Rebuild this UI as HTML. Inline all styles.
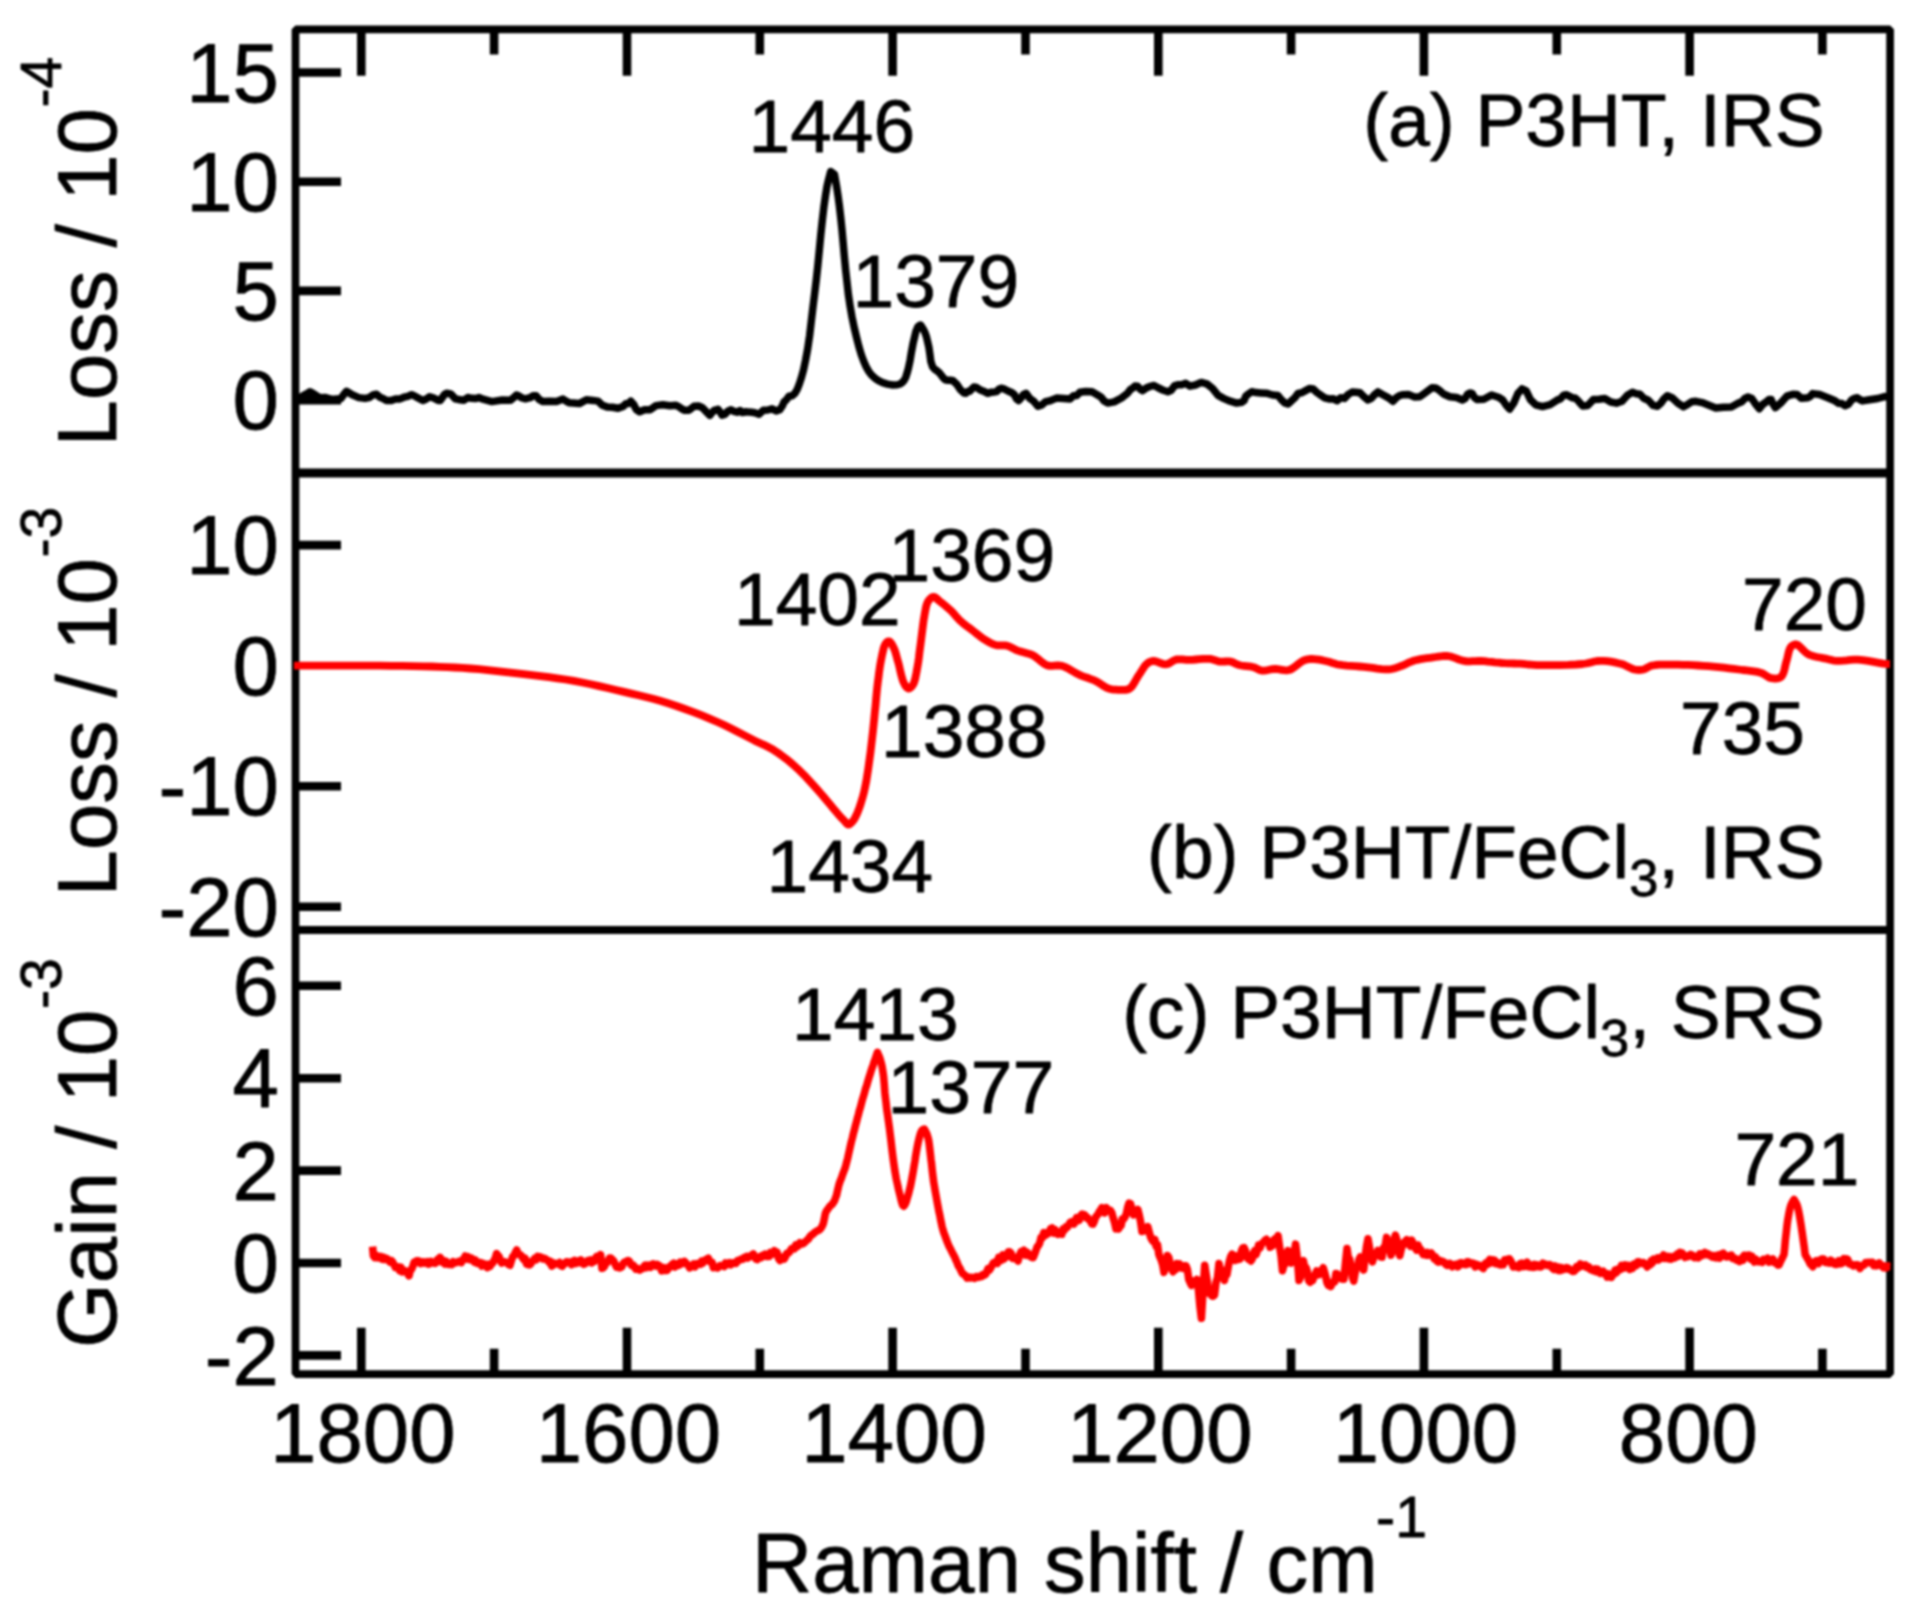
<!DOCTYPE html>
<html lang="en"><head><meta charset="utf-8"><title>Raman spectra of P3HT</title>
<style>
html,body{margin:0;padding:0;background:#fff;}
body{width:1916px;height:1620px;overflow:hidden;}
svg{display:block;filter:blur(0.8px);}
text{font-family:"Liberation Sans",sans-serif;fill:#000;stroke:#000;stroke-width:0.8px;stroke-linejoin:round;}
.t{font-size:83.4px;}
.p{font-size:74.9px;}
.q{font-size:74.8px;}
.s{font-size:57.2px;}
.ln{fill:none;stroke-linejoin:round;stroke-linecap:butt;}
</style></head><body>
<svg width="1916" height="1620" viewBox="0 0 1916 1620">
<rect x="0" y="0" width="1916" height="1620" fill="#fff"/>
<g stroke="#000" fill="none" stroke-linecap="butt">
<rect x="295.5" y="29.3" width="1594.6" height="1344.8" stroke-width="7.7" stroke-linejoin="bevel"/>
<line x1="295.5" y1="473.0" x2="1890.1" y2="473.0" stroke-width="9.0"/>
<line x1="295.5" y1="930.0" x2="1890.1" y2="930.0" stroke-width="8.2"/>
<path stroke-width="8.6" d="M361.3 29.3 v46.4 M361.3 1374.1 v-46.4 M494.1 29.3 v25.3 M494.1 1374.1 v-25.3 M627.0 29.3 v46.4 M627.0 1374.1 v-46.4 M759.8 29.3 v25.3 M759.8 1374.1 v-25.3 M892.6 29.3 v46.4 M892.6 1374.1 v-46.4 M1025.5 29.3 v25.3 M1025.5 1374.1 v-25.3 M1158.3 29.3 v46.4 M1158.3 1374.1 v-46.4 M1291.1 29.3 v25.3 M1291.1 1374.1 v-25.3 M1423.9 29.3 v46.4 M1423.9 1374.1 v-46.4 M1556.8 29.3 v25.3 M1556.8 1374.1 v-25.3 M1689.6 29.3 v46.4 M1689.6 1374.1 v-46.4 M1822.4 29.3 v25.3 M1822.4 1374.1 v-25.3"/>
<path stroke-width="8.6" d="M295.5 72.5 h45.5 M295.5 181.7 h45.5 M295.5 290.9 h45.5 M295.5 400.1 h45.5 M295.5 545.1 h45.5 M295.5 786.2 h45.5 M295.5 906.7 h45.5 M295.5 985.8 h45.5 M295.5 1078.2 h45.5 M295.5 1170.6 h45.5 M295.5 1263.0 h45.5 M295.5 1355.4 h45.5"/>
</g>
<g clip-path="url(#clipA)">
<path class="ln" stroke="#000" stroke-width="7.5" d="M294.0 397.9 L294.8 398.3 L296.7 399.4 L298.8 397.9 L302.2 396.3 L306.1 394.1 L310.0 391.7 L313.2 393.5 L316.4 395.7 L320.0 397.8 L325.7 397.6 L332.1 399.6 L337.6 398.9 L340.7 398.7 L343.3 395.2 L346.4 391.3 L352.2 394.8 L358.8 397.6 L365.0 398.4 L369.1 397.6 L372.9 395.0 L376.5 394.2 L379.9 397.3 L383.0 398.5 L386.5 400.5 L390.8 400.6 L395.5 399.0 L400.0 398.9 L404.0 397.2 L407.8 396.4 L411.6 394.7 L415.4 396.4 L419.1 398.5 L422.8 400.5 L426.3 399.0 L429.7 396.7 L432.9 397.8 L435.4 398.9 L437.8 400.2 L440.0 400.6 L442.1 397.9 L444.2 394.8 L446.6 393.3 L450.7 393.9 L455.4 398.9 L460.0 399.7 L463.9 400.3 L467.8 397.5 L471.7 398.3 L475.3 398.6 L478.9 397.6 L483.0 399.2 L491.9 401.6 L502.2 400.0 L510.6 400.3 L513.9 397.4 L516.5 395.0 L519.0 396.0 L521.3 397.6 L523.4 398.3 L525.6 398.8 L528.0 398.2 L530.4 397.6 L533.0 395.7 L536.0 395.7 L539.2 399.5 L543.0 401.6 L549.3 401.2 L556.6 401.5 L563.0 399.1 L566.5 401.3 L569.5 402.8 L573.0 403.1 L579.3 403.6 L586.4 399.7 L593.0 400.4 L597.9 401.1 L602.3 405.2 L607.0 406.9 L612.4 407.2 L618.1 408.3 L623.0 406.5 L625.9 403.7 L628.4 403.6 L630.8 401.2 L633.6 404.2 L636.3 409.6 L639.6 411.8 L644.5 409.7 L650.1 409.8 L656.0 405.6 L662.8 404.8 L669.9 405.8 L676.0 405.2 L679.2 407.0 L681.8 408.8 L684.7 410.3 L689.1 410.2 L693.9 406.3 L698.5 406.0 L702.5 407.7 L706.4 411.9 L709.8 415.3 L712.0 412.6 L714.0 410.5 L716.0 410.0 L717.9 409.3 L719.9 411.6 L722.0 415.1 L724.8 414.3 L727.9 411.1 L731.0 409.8 L734.0 411.3 L737.1 412.2 L740.0 410.5 L742.1 412.6 L744.0 412.3 L746.0 411.7 L748.8 412.1 L751.7 412.3 L754.8 412.7 L759.0 414.2 L763.4 410.2 L767.8 410.0 L772.0 408.8 L776.2 410.9 L779.8 409.7 L782.3 406.0 L784.1 401.8 L786.3 399.9 L789.0 396.2 L792.0 395.8 L794.6 393.7 L797.1 389.6 L799.1 384.6 L801.0 378.9 L803.5 370.0 L805.6 360.0 L807.6 349.3 L809.6 335.7 L811.3 321.1 L813.0 306.7 L814.7 293.1 L816.3 279.7 L817.8 265.9 L819.3 250.4 L820.8 234.6 L822.4 219.6 L823.8 207.6 L825.4 196.2 L827.0 186.3 L828.5 179.9 L830.0 174.1 L830.7 171.6 L831.7 172.3 L833.4 173.5 L834.4 174.2 L835.1 178.0 L836.6 186.5 L838.0 195.5 L839.4 205.9 L840.7 217.2 L841.9 228.9 L843.1 242.2 L844.3 256.0 L845.6 269.6 L847.0 282.2 L848.4 294.6 L850.2 306.7 L852.1 317.5 L854.3 328.0 L856.7 338.0 L858.9 346.6 L861.3 354.7 L864.0 362.0 L866.2 366.9 L868.6 371.2 L871.5 375.0 L874.8 378.1 L878.5 380.6 L882.6 382.6 L887.5 384.1 L892.8 385.0 L897.4 384.8 L899.9 384.0 L902.1 382.6 L903.9 380.7 L905.8 377.2 L907.2 372.7 L908.5 367.8 L910.1 360.2 L911.5 351.7 L913.0 343.7 L914.5 337.3 L916.0 331.2 L917.8 327.0 L918.9 325.9 L920.0 325.2 L920.5 325.0 L921.4 326.3 L923.3 329.3 L925.0 332.6 L926.5 337.0 L927.7 342.1 L928.9 347.4 L929.9 354.2 L930.8 361.3 L932.6 366.9 L934.5 369.1 L936.8 370.7 L939.0 372.4 L941.1 375.0 L943.2 377.8 L945.5 379.8 L947.9 380.3 L950.4 380.2 L953.0 380.7 L956.7 384.2 L960.5 389.8 L964.0 393.1 L965.9 393.2 L967.8 391.4 L969.6 391.2 L971.7 389.2 L973.8 387.1 L976.0 387.2 L978.7 388.9 L981.5 390.5 L984.4 391.6 L987.8 393.3 L991.4 392.2 L994.6 391.9 L996.8 391.5 L998.8 389.4 L1001.0 388.2 L1004.6 389.2 L1008.5 391.3 L1012.0 392.8 L1014.4 394.7 L1016.5 398.8 L1018.7 400.6 L1021.0 398.0 L1023.4 394.6 L1026.0 393.3 L1029.8 398.5 L1033.8 401.3 L1038.0 406.3 L1041.8 404.9 L1045.7 401.6 L1050.0 400.8 L1056.5 398.1 L1063.7 398.6 L1070.0 398.9 L1073.5 395.8 L1076.6 395.6 L1080.0 392.3 L1085.7 391.5 L1092.0 391.8 L1097.6 395.0 L1101.1 397.2 L1104.2 401.1 L1107.7 403.1 L1114.2 401.9 L1121.5 398.0 L1127.7 393.1 L1130.4 389.5 L1132.7 388.1 L1135.0 386.1 L1137.5 386.2 L1140.1 389.1 L1142.8 390.6 L1146.3 388.0 L1150.1 386.3 L1154.0 385.5 L1158.6 388.0 L1163.4 390.3 L1167.8 391.7 L1171.2 390.2 L1174.4 385.9 L1177.8 384.7 L1181.6 384.8 L1185.7 383.3 L1190.0 386.2 L1195.4 385.0 L1201.2 382.4 L1206.7 383.8 L1212.5 388.4 L1218.1 395.4 L1224.0 398.6 L1230.2 401.2 L1236.6 403.1 L1241.8 402.2 L1244.1 400.5 L1245.8 396.2 L1248.0 394.3 L1251.7 391.7 L1256.0 392.6 L1260.6 392.9 L1266.4 393.2 L1272.5 395.0 L1278.0 395.6 L1281.6 400.0 L1284.8 402.9 L1288.0 404.0 L1291.3 400.9 L1294.6 398.0 L1298.0 393.4 L1301.7 392.7 L1305.6 390.6 L1309.4 388.5 L1313.2 389.0 L1316.9 392.5 L1320.7 395.1 L1324.7 397.8 L1328.9 398.9 L1333.0 398.7 L1336.9 400.7 L1340.7 397.7 L1344.5 398.4 L1348.3 394.4 L1352.1 392.1 L1355.8 392.2 L1359.9 392.8 L1364.1 396.9 L1368.0 400.0 L1371.3 398.4 L1374.5 394.7 L1378.0 391.9 L1382.8 394.7 L1388.1 397.6 L1393.0 401.3 L1396.4 397.6 L1399.5 395.6 L1403.0 394.7 L1408.3 394.4 L1414.2 396.9 L1419.7 396.8 L1424.0 393.7 L1428.0 390.7 L1432.0 387.8 L1435.7 387.9 L1439.4 390.4 L1443.5 394.0 L1449.8 396.8 L1456.6 397.5 L1462.4 400.0 L1465.2 398.4 L1467.5 394.2 L1469.8 392.9 L1472.1 393.4 L1474.4 397.5 L1477.3 399.6 L1483.8 399.2 L1491.6 395.0 L1498.4 397.2 L1502.7 400.0 L1506.2 405.3 L1509.6 409.1 L1513.7 403.2 L1517.8 393.6 L1522.0 388.9 L1526.2 390.9 L1530.5 399.8 L1535.7 404.8 L1542.5 406.6 L1550.1 404.6 L1556.8 400.3 L1560.5 398.7 L1563.6 395.3 L1566.7 394.8 L1569.7 396.3 L1572.6 397.8 L1575.4 398.3 L1577.9 400.5 L1580.1 403.2 L1582.9 406.1 L1587.7 405.5 L1593.3 399.6 L1599.0 399.2 L1604.8 398.6 L1610.7 402.0 L1616.4 403.2 L1622.0 401.3 L1627.4 395.2 L1632.5 392.3 L1636.3 393.7 L1640.0 394.2 L1643.7 398.2 L1648.3 400.2 L1653.1 405.4 L1657.4 406.3 L1660.8 403.2 L1663.8 399.0 L1667.3 395.7 L1672.4 398.0 L1678.0 403.3 L1683.5 406.7 L1687.6 404.4 L1691.6 401.8 L1695.9 401.3 L1702.1 402.6 L1708.9 405.2 L1715.8 408.0 L1723.5 407.3 L1731.3 407.0 L1738.0 403.3 L1741.8 401.7 L1744.9 398.4 L1748.0 397.0 L1751.8 398.5 L1755.6 404.1 L1759.3 408.8 L1762.7 404.4 L1766.0 402.1 L1769.0 399.5 L1771.1 399.6 L1773.0 403.9 L1775.4 407.6 L1780.6 403.2 L1786.8 396.2 L1792.8 394.3 L1797.1 394.4 L1801.2 398.3 L1805.0 398.0 L1807.5 397.8 L1809.9 396.7 L1812.7 393.6 L1819.6 394.5 L1827.8 397.7 L1835.0 400.8 L1838.7 403.3 L1841.9 403.6 L1845.0 405.8 L1848.4 404.3 L1851.8 399.8 L1855.0 398.1 L1857.3 397.7 L1859.6 399.4 L1862.4 400.9 L1869.4 399.8 L1877.8 398.5 L1884.7 396.6 L1887.5 396.8 L1890.0 395.9 L1891.0 396.1"/>
</g>
<g clip-path="url(#clipP)">
<path class="ln" stroke="#f00" stroke-width="7.8" d="M293.0 665.7 L296.2 665.7 L304.8 665.7 L316.8 665.6 L330.7 665.6 L344.6 665.6 L356.8 665.6 L368.0 665.6 L379.4 665.7 L390.8 665.8 L402.2 665.9 L413.1 666.1 L423.6 666.3 L431.8 666.5 L439.7 666.8 L447.3 667.1 L454.9 667.5 L462.5 667.9 L470.4 668.5 L479.1 669.2 L488.0 670.1 L497.0 671.1 L506.0 672.1 L515.0 673.1 L523.8 674.2 L532.3 675.2 L540.6 676.2 L549.0 677.2 L557.3 678.3 L565.6 679.5 L573.9 680.9 L582.3 682.5 L590.8 684.2 L599.2 686.1 L607.6 688.0 L615.9 690.0 L624.0 691.9 L631.4 693.6 L638.6 695.3 L645.8 697.0 L652.9 698.8 L660.1 700.8 L667.4 703.0 L675.7 705.7 L684.2 708.7 L692.8 711.9 L701.3 715.2 L709.6 718.6 L717.5 722.0 L724.1 725.0 L730.7 728.2 L737.0 731.4 L743.1 734.6 L748.9 737.6 L754.3 740.4 L758.0 742.2 L761.4 743.8 L764.7 745.2 L767.8 746.8 L771.0 748.4 L774.3 750.4 L778.2 753.0 L782.1 755.8 L786.1 758.8 L790.0 762.0 L793.9 765.4 L797.7 768.8 L801.7 772.7 L805.8 776.8 L809.7 781.1 L813.6 785.4 L817.4 789.7 L821.0 793.8 L824.1 797.4 L827.1 801.0 L830.1 804.6 L832.9 808.0 L835.5 811.1 L837.8 813.8 L839.0 815.2 L840.1 816.4 L841.1 817.5 L842.1 818.5 L843.1 819.5 L844.0 820.5 L844.8 821.3 L845.5 822.2 L846.2 823.1 L846.9 823.8 L847.6 824.4 L848.3 824.6 L849.0 824.5 L849.7 824.1 L850.4 823.6 L851.2 822.9 L851.8 822.2 L852.5 821.5 L853.3 820.6 L854.0 819.6 L854.7 818.5 L855.3 817.2 L856.0 815.9 L856.7 814.4 L857.9 811.5 L859.2 808.1 L860.5 804.4 L861.7 800.4 L862.9 796.3 L864.0 792.2 L865.1 787.1 L866.2 781.8 L867.1 776.2 L868.0 770.5 L868.8 764.7 L869.6 758.9 L870.5 752.3 L871.3 745.5 L872.1 738.6 L872.9 731.6 L873.6 724.8 L874.3 718.0 L874.9 711.6 L875.6 705.2 L876.1 698.9 L876.7 692.7 L877.3 686.7 L878.0 681.0 L878.6 676.6 L879.1 672.3 L879.7 668.2 L880.3 664.2 L881.0 660.5 L881.7 657.0 L882.2 654.5 L882.8 652.0 L883.3 649.6 L883.9 647.4 L884.6 645.5 L885.4 644.0 L885.9 643.3 L886.5 642.6 L887.1 642.0 L887.8 641.6 L888.4 641.3 L889.0 641.3 L889.8 641.7 L890.6 642.5 L891.4 643.6 L892.2 644.9 L893.0 646.4 L893.7 647.8 L894.6 649.9 L895.4 652.1 L896.1 654.6 L896.8 657.2 L897.5 659.9 L898.3 662.6 L899.2 666.0 L900.0 669.7 L900.9 673.5 L901.8 677.1 L902.8 680.4 L903.9 683.0 L904.6 684.3 L905.3 685.6 L906.1 686.7 L906.9 687.6 L907.7 688.2 L908.5 688.5 L909.2 688.4 L910.0 688.0 L910.8 687.4 L911.6 686.6 L912.3 685.8 L913.0 684.8 L913.9 683.0 L914.6 680.8 L915.3 678.4 L915.8 675.7 L916.4 672.8 L916.9 670.0 L917.6 666.1 L918.3 661.9 L918.9 657.5 L919.4 653.0 L920.0 648.5 L920.6 644.0 L921.2 639.3 L921.8 634.5 L922.4 629.7 L923.0 624.9 L923.6 620.4 L924.3 616.3 L924.8 613.4 L925.3 610.7 L925.8 608.0 L926.4 605.5 L927.1 603.4 L928.0 601.5 L928.8 600.4 L929.6 599.3 L930.6 598.4 L931.5 597.6 L932.5 597.1 L933.5 596.9 L934.5 597.1 L935.6 597.6 L936.6 598.5 L937.7 599.5 L938.8 600.5 L940.0 601.5 L941.7 602.8 L943.5 604.3 L945.4 605.8 L947.3 607.4 L949.2 609.1 L951.0 610.7 L952.6 612.3 L954.1 614.0 L955.6 615.8 L957.1 617.5 L958.7 619.2 L960.4 620.9 L962.4 622.7 L964.5 624.4 L966.7 626.1 L969.0 627.7 L971.2 629.4 L973.3 631.0 L975.2 632.5 L977.0 634.0 L978.9 635.4 L980.7 636.8 L982.5 638.2 L984.4 639.4 L986.2 640.5 L988.1 641.6 L989.9 642.7 L991.8 643.6 L993.7 644.4 L995.6 645.0 L997.4 645.3 L999.3 645.4 L1001.1 645.3 L1003.0 645.3 L1004.9 645.3 L1006.7 645.6 L1008.6 646.2 L1010.4 647.0 L1012.2 647.9 L1014.0 648.8 L1015.8 649.8 L1017.8 650.6 L1020.1 651.4 L1022.6 652.0 L1025.1 652.7 L1027.7 653.4 L1030.2 654.2 L1032.6 655.2 L1035.1 656.7 L1037.6 658.6 L1040.0 660.6 L1042.4 662.5 L1044.9 664.2 L1047.4 665.4 L1049.8 665.9 L1052.2 665.9 L1054.6 665.7 L1057.1 665.5 L1059.5 665.5 L1062.0 665.9 L1064.8 666.9 L1067.6 668.2 L1070.4 669.8 L1073.2 671.5 L1076.1 673.2 L1078.9 674.6 L1081.7 675.8 L1084.5 676.8 L1087.4 677.8 L1090.2 678.8 L1093.0 679.8 L1095.6 681.0 L1097.9 682.2 L1100.1 683.6 L1102.2 685.1 L1104.3 686.4 L1106.4 687.6 L1108.5 688.5 L1110.4 689.0 L1112.2 689.4 L1114.1 689.6 L1116.0 689.7 L1117.8 689.8 L1119.6 689.8 L1121.3 689.8 L1123.0 689.9 L1124.7 689.9 L1126.3 689.8 L1127.9 689.4 L1129.4 688.7 L1131.2 687.2 L1132.8 685.2 L1134.4 682.7 L1135.8 680.1 L1137.3 677.5 L1138.8 675.2 L1140.2 673.1 L1141.5 671.0 L1142.9 668.8 L1144.2 666.8 L1145.6 665.1 L1147.0 663.7 L1148.0 662.9 L1149.0 662.3 L1150.0 661.8 L1151.1 661.4 L1152.2 661.1 L1153.4 661.0 L1155.3 661.2 L1157.3 661.8 L1159.5 662.7 L1161.8 663.5 L1163.9 664.2 L1166.0 664.3 L1167.8 663.9 L1169.5 663.1 L1171.2 662.1 L1172.9 661.0 L1174.6 660.1 L1176.4 659.5 L1178.3 659.3 L1180.3 659.3 L1182.3 659.4 L1184.4 659.6 L1186.6 659.8 L1188.9 659.9 L1192.2 659.8 L1195.8 659.5 L1199.5 659.2 L1203.2 658.9 L1206.7 658.8 L1209.8 658.9 L1211.7 659.2 L1213.5 659.7 L1215.1 660.2 L1216.7 660.8 L1218.3 661.3 L1220.0 661.6 L1221.8 661.7 L1223.6 661.7 L1225.4 661.5 L1227.2 661.4 L1228.9 661.4 L1230.6 661.6 L1232.0 662.0 L1233.4 662.5 L1234.7 663.2 L1236.1 663.9 L1237.5 664.5 L1239.0 665.0 L1241.2 665.5 L1243.7 665.8 L1246.3 666.1 L1248.9 666.4 L1251.4 666.7 L1253.6 667.2 L1255.1 667.7 L1256.5 668.4 L1257.8 669.1 L1259.1 669.7 L1260.5 670.3 L1262.0 670.6 L1263.9 670.6 L1265.9 670.4 L1268.0 670.0 L1270.2 669.5 L1272.3 669.1 L1274.5 668.9 L1276.9 669.0 L1279.3 669.4 L1281.7 669.8 L1284.2 670.2 L1286.6 670.3 L1289.0 670.0 L1291.6 669.0 L1294.1 667.3 L1296.6 665.4 L1299.1 663.4 L1301.5 661.7 L1303.7 660.5 L1305.1 660.0 L1306.5 659.6 L1307.8 659.3 L1309.1 659.1 L1310.5 659.0 L1312.0 659.0 L1314.2 659.1 L1316.6 659.3 L1319.2 659.7 L1321.8 660.2 L1324.3 660.7 L1326.7 661.2 L1328.8 661.7 L1330.7 662.3 L1332.6 663.0 L1334.6 663.6 L1336.7 664.2 L1339.0 664.7 L1342.6 665.2 L1346.7 665.6 L1350.9 665.9 L1355.3 666.2 L1359.7 666.5 L1364.0 666.8 L1368.3 667.3 L1372.8 667.9 L1377.2 668.6 L1381.5 669.1 L1385.6 669.4 L1389.3 669.3 L1391.7 669.0 L1393.8 668.5 L1395.9 667.9 L1397.8 667.3 L1399.8 666.5 L1401.8 665.8 L1403.9 665.0 L1405.9 664.1 L1407.9 663.1 L1410.0 662.1 L1412.1 661.3 L1414.4 660.5 L1417.3 659.8 L1420.4 659.2 L1423.6 658.6 L1426.8 658.2 L1430.0 657.8 L1433.0 657.4 L1435.6 657.0 L1438.0 656.6 L1440.5 656.3 L1442.9 656.0 L1445.3 655.9 L1447.8 656.0 L1450.5 656.5 L1453.3 657.4 L1456.1 658.4 L1458.9 659.5 L1461.7 660.4 L1464.5 661.0 L1467.2 661.3 L1469.9 661.3 L1472.6 661.2 L1475.3 661.1 L1478.1 661.0 L1481.0 661.0 L1484.4 661.2 L1487.9 661.6 L1491.4 661.9 L1495.0 662.4 L1498.6 662.7 L1502.0 663.0 L1505.1 663.2 L1508.1 663.3 L1511.1 663.4 L1514.1 663.5 L1517.0 663.6 L1520.0 663.7 L1522.8 663.9 L1525.4 664.2 L1528.0 664.5 L1530.7 664.7 L1533.7 664.9 L1537.0 665.1 L1543.6 665.2 L1551.3 665.2 L1559.7 665.1 L1568.1 664.9 L1575.9 664.5 L1582.5 664.0 L1585.9 663.5 L1588.9 662.9 L1591.7 662.2 L1594.3 661.5 L1597.1 661.0 L1600.0 660.8 L1603.5 660.9 L1607.3 661.2 L1611.0 661.7 L1614.8 662.4 L1618.3 663.2 L1621.6 664.0 L1624.0 664.8 L1626.3 665.9 L1628.5 667.0 L1630.6 668.0 L1632.6 668.9 L1634.6 669.5 L1636.1 669.8 L1637.6 669.9 L1639.1 670.0 L1640.5 669.9 L1641.9 669.8 L1643.3 669.5 L1644.7 669.1 L1646.0 668.4 L1647.3 667.6 L1648.7 666.9 L1650.2 666.1 L1652.0 665.6 L1655.5 665.0 L1659.5 664.7 L1664.0 664.6 L1668.6 664.6 L1673.4 664.6 L1678.0 664.7 L1682.9 664.8 L1688.0 664.9 L1693.1 665.2 L1698.2 665.5 L1703.3 665.8 L1708.4 666.2 L1713.5 666.6 L1718.7 667.1 L1723.9 667.7 L1729.1 668.3 L1734.0 668.9 L1738.8 669.5 L1742.7 670.0 L1746.6 670.4 L1750.4 670.8 L1754.0 671.3 L1757.4 671.9 L1760.5 672.7 L1762.6 673.5 L1764.5 674.6 L1766.2 675.7 L1767.9 676.8 L1769.6 677.7 L1771.4 678.2 L1773.1 678.4 L1774.8 678.6 L1776.5 678.5 L1778.1 678.3 L1779.7 677.8 L1781.0 677.0 L1782.4 675.3 L1783.5 672.8 L1784.4 669.9 L1785.1 666.7 L1785.8 663.6 L1786.6 660.8 L1787.3 658.2 L1787.9 655.6 L1788.5 652.9 L1789.2 650.4 L1790.0 648.3 L1791.0 646.7 L1791.8 646.0 L1792.6 645.4 L1793.5 644.9 L1794.4 644.6 L1795.4 644.4 L1796.4 644.5 L1798.1 645.2 L1799.9 646.7 L1801.9 648.7 L1803.9 650.8 L1806.0 652.8 L1808.3 654.3 L1811.0 655.4 L1813.9 656.3 L1817.0 657.0 L1820.0 657.5 L1823.0 658.1 L1825.7 658.6 L1827.6 659.1 L1829.3 659.5 L1831.0 659.9 L1832.7 660.3 L1834.5 660.6 L1836.5 660.8 L1839.6 660.8 L1843.0 660.6 L1846.6 660.3 L1850.3 659.9 L1854.2 659.7 L1858.0 659.7 L1862.8 660.1 L1868.2 660.9 L1873.7 661.9 L1878.9 662.8 L1883.3 663.6 L1886.5 664.0 L1887.4 664.0 L1888.2 664.1 L1888.9 664.0 L1889.5 664.0 L1889.9 664.0 L1890.0 664.0"/>
<path class="ln" stroke="#f00" stroke-width="7.6" d="M372.6 1246.7 L373.4 1255.8 L374.8 1257.5 L376.2 1255.3 L377.5 1257.8 L378.9 1257.4 L380.3 1256.5 L381.7 1258.9 L383.1 1257.2 L384.5 1259.4 L385.9 1258.2 L387.2 1258.7 L388.6 1260.6 L390.0 1262.0 L391.4 1260.7 L392.7 1262.1 L394.1 1264.9 L395.4 1267.4 L396.8 1266.7 L398.1 1266.8 L399.5 1270.5 L400.9 1267.2 L402.2 1271.9 L403.6 1270.3 L404.9 1270.6 L406.3 1271.5 L407.6 1273.3 L409.0 1275.8 L410.2 1270.6 L411.5 1269.3 L412.8 1266.5 L414.0 1262.5 L415.3 1262.9 L416.6 1260.7 L417.9 1260.7 L419.2 1261.3 L420.6 1263.5 L421.9 1262.4 L423.2 1261.8 L424.5 1263.1 L425.8 1262.5 L427.1 1261.8 L428.4 1264.1 L429.8 1263.6 L431.1 1261.5 L432.4 1263.0 L433.7 1262.8 L435.0 1263.4 L436.2 1262.6 L437.5 1259.4 L438.8 1261.4 L440.0 1257.3 L441.2 1259.1 L442.5 1262.2 L443.8 1260.9 L445.0 1264.0 L446.4 1261.6 L447.7 1264.3 L449.1 1264.5 L450.5 1263.4 L451.8 1264.5 L453.2 1261.7 L454.5 1263.2 L455.9 1262.5 L457.3 1262.2 L458.6 1261.4 L460.0 1262.0 L461.3 1262.6 L462.6 1259.6 L463.9 1259.7 L465.2 1256.0 L466.5 1258.2 L467.8 1256.7 L469.1 1259.6 L470.3 1259.8 L471.6 1258.3 L472.8 1259.7 L474.1 1261.9 L475.3 1259.9 L476.6 1262.9 L477.8 1263.4 L479.2 1262.5 L480.5 1262.5 L481.9 1266.0 L483.2 1263.4 L484.6 1264.2 L485.9 1265.1 L487.3 1267.6 L488.6 1264.2 L490.0 1266.3 L491.3 1264.1 L492.6 1263.2 L494.0 1260.4 L495.3 1258.2 L496.6 1253.6 L497.9 1255.4 L499.2 1256.8 L500.4 1261.0 L501.7 1263.1 L503.0 1262.1 L504.4 1261.7 L505.8 1262.4 L507.2 1262.9 L508.6 1264.5 L510.0 1265.2 L511.3 1260.9 L512.7 1256.7 L514.0 1255.6 L515.4 1252.4 L516.7 1250.1 L518.1 1253.8 L519.5 1254.4 L520.9 1255.3 L522.4 1257.5 L523.8 1259.6 L525.2 1258.4 L526.6 1264.1 L528.0 1264.5 L529.4 1264.9 L530.8 1263.8 L532.1 1261.1 L533.5 1260.3 L534.9 1258.2 L536.2 1259.8 L537.6 1256.4 L539.0 1256.8 L540.3 1256.9 L541.5 1257.4 L542.8 1258.9 L544.1 1258.2 L545.4 1258.7 L546.6 1260.0 L547.9 1260.5 L549.2 1262.4 L550.5 1261.5 L551.7 1266.0 L553.0 1265.2 L554.3 1263.2 L555.7 1263.6 L557.0 1263.9 L558.3 1263.8 L559.6 1262.6 L561.0 1265.8 L562.3 1266.3 L563.6 1263.8 L565.0 1263.7 L566.3 1261.7 L567.6 1261.7 L569.0 1262.7 L570.3 1262.2 L571.6 1264.6 L572.9 1261.4 L574.3 1260.6 L575.6 1263.5 L576.9 1262.7 L578.3 1260.9 L579.6 1262.6 L581.0 1260.1 L582.3 1262.3 L583.6 1264.3 L585.0 1263.7 L586.3 1262.8 L587.6 1260.7 L589.0 1261.1 L590.3 1260.1 L591.7 1262.8 L593.0 1261.5 L594.3 1261.5 L595.5 1258.1 L596.8 1256.4 L598.1 1257.9 L599.3 1257.5 L600.6 1254.6 L602.0 1268.3 L603.2 1267.9 L604.5 1266.3 L605.7 1262.7 L607.0 1262.8 L608.2 1260.8 L609.5 1258.1 L610.7 1258.1 L612.2 1259.5 L613.6 1260.9 L615.1 1264.3 L616.5 1267.0 L618.0 1266.3 L619.3 1267.9 L620.6 1267.5 L621.8 1266.8 L623.1 1263.6 L624.4 1262.3 L625.7 1261.8 L626.9 1261.1 L628.2 1260.6 L629.5 1261.6 L630.8 1264.5 L632.0 1265.5 L633.2 1265.1 L634.5 1267.2 L635.8 1269.1 L637.0 1268.2 L638.3 1269.4 L639.7 1270.1 L641.0 1269.1 L642.4 1268.6 L643.7 1267.0 L645.1 1265.2 L646.4 1267.6 L647.8 1265.2 L649.1 1266.9 L650.5 1267.3 L651.8 1264.3 L653.2 1263.9 L654.5 1264.8 L655.9 1266.0 L657.3 1264.5 L658.8 1265.3 L660.2 1266.4 L661.6 1270.9 L663.0 1270.6 L664.3 1267.8 L665.7 1270.4 L667.0 1270.5 L668.3 1268.4 L669.7 1266.4 L671.0 1266.8 L672.3 1264.3 L673.7 1263.2 L675.0 1267.0 L676.3 1265.0 L677.7 1263.8 L679.0 1265.1 L680.3 1262.2 L681.7 1263.7 L683.0 1262.0 L684.3 1261.3 L685.6 1262.8 L687.0 1264.2 L688.3 1265.2 L689.6 1267.9 L690.9 1265.9 L692.3 1266.0 L693.6 1264.0 L695.0 1266.9 L696.3 1263.7 L697.6 1263.5 L699.0 1263.4 L700.3 1264.2 L701.6 1261.3 L703.0 1262.9 L704.3 1260.3 L705.7 1259.8 L707.0 1259.0 L708.3 1258.2 L709.6 1261.6 L710.9 1261.9 L712.1 1262.5 L713.4 1267.6 L714.7 1267.1 L716.0 1267.2 L717.4 1268.0 L718.7 1266.9 L720.1 1265.5 L721.4 1266.0 L722.8 1265.8 L724.1 1266.5 L725.4 1263.0 L726.8 1264.8 L728.1 1263.0 L729.5 1262.7 L730.8 1264.7 L732.2 1263.1 L733.5 1262.8 L734.8 1263.3 L736.1 1263.4 L737.5 1260.6 L738.8 1260.7 L740.1 1259.6 L741.4 1259.0 L742.8 1259.2 L744.1 1257.5 L745.4 1257.3 L746.7 1256.4 L748.0 1257.9 L749.4 1256.2 L750.7 1256.4 L752.0 1254.8 L753.3 1253.9 L754.6 1256.3 L755.9 1259.0 L757.2 1259.6 L758.5 1258.3 L759.8 1256.7 L761.1 1257.6 L762.5 1255.4 L763.8 1255.6 L765.1 1254.3 L766.4 1256.5 L767.8 1256.5 L769.1 1256.5 L770.4 1252.5 L771.7 1254.6 L773.0 1253.8 L774.4 1250.8 L775.7 1253.7 L777.0 1252.3 L778.6 1258.5 L780.0 1260.5 L781.4 1257.3 L782.8 1257.1 L784.2 1258.9 L785.6 1256.6 L786.8 1253.2 L788.1 1253.2 L789.3 1252.3 L790.5 1250.3 L791.8 1248.4 L793.0 1248.2 L794.4 1248.8 L795.8 1244.9 L797.1 1246.7 L798.5 1245.5 L799.9 1242.8 L801.2 1244.1 L802.6 1243.9 L804.0 1243.0 L804.5 1242.2 L805.7 1241.5 L807.5 1239.6 L808.5 1239.1 L809.5 1237.1 L810.5 1236.0 L811.5 1235.0 L813.3 1233.9 L814.7 1232.4 L816.3 1231.4 L817.8 1230.6 L819.2 1230.0 L820.5 1228.8 L821.7 1227.0 L822.8 1224.8 L823.5 1222.7 L824.1 1219.7 L824.7 1216.9 L825.3 1213.7 L826.3 1211.2 L827.5 1209.6 L828.9 1207.6 L830.4 1205.7 L832.0 1204.5 L833.4 1202.5 L834.6 1200.6 L835.6 1197.6 L836.5 1195.4 L837.2 1192.1 L837.8 1189.7 L838.5 1186.5 L839.3 1183.6 L840.3 1180.8 L841.4 1178.2 L842.5 1174.9 L843.6 1171.9 L844.7 1169.1 L845.7 1165.8 L846.7 1162.0 L847.7 1158.1 L848.6 1154.0 L849.5 1150.0 L850.4 1145.9 L851.3 1141.9 L852.3 1138.1 L853.3 1133.8 L854.4 1129.9 L855.4 1125.7 L856.5 1121.8 L857.5 1117.7 L858.5 1114.2 L859.4 1110.5 L860.4 1107.4 L861.3 1103.8 L862.3 1100.1 L863.3 1096.7 L864.4 1093.2 L865.5 1088.8 L866.7 1085.4 L867.8 1081.4 L868.9 1077.8 L870.0 1074.6 L870.8 1071.8 L871.6 1069.4 L872.4 1067.1 L873.2 1065.0 L873.9 1062.4 L874.6 1060.7 L875.2 1059.0 L875.8 1057.2 L876.4 1055.4 L876.9 1053.9 L877.3 1052.7 L877.4 1052.4 L877.6 1052.7 L878.0 1054.1 L878.7 1055.2 L879.4 1056.9 L880.0 1058.6 L880.6 1060.7 L881.2 1062.8 L881.7 1064.8 L882.1 1066.8 L882.5 1069.2 L882.9 1071.7 L883.3 1074.4 L883.7 1077.5 L884.0 1081.2 L884.3 1084.7 L884.6 1088.9 L884.9 1092.9 L885.3 1096.7 L886.0 1102.3 L886.7 1108.9 L887.6 1114.9 L888.5 1121.5 L889.4 1127.8 L890.2 1134.4 L891.0 1140.7 L891.7 1147.0 L892.4 1153.0 L893.2 1159.3 L894.0 1164.9 L894.8 1170.5 L895.5 1174.5 L896.2 1178.7 L897.0 1182.3 L897.8 1185.9 L898.6 1189.6 L899.4 1192.8 L900.1 1195.7 L900.8 1198.6 L901.5 1201.5 L902.2 1203.8 L902.9 1205.5 L903.7 1206.2 L904.5 1205.3 L905.4 1203.6 L906.2 1201.7 L907.1 1198.4 L907.9 1195.8 L908.7 1193.1 L909.6 1189.4 L910.4 1186.3 L911.1 1182.7 L911.9 1178.6 L912.6 1174.8 L913.3 1170.9 L914.1 1165.9 L914.9 1161.3 L915.6 1156.3 L916.4 1151.7 L917.2 1147.2 L918.0 1143.2 L918.6 1140.6 L919.1 1138.5 L919.7 1136.1 L920.3 1134.1 L921.0 1132.1 L921.7 1130.7 L922.2 1130.2 L922.8 1129.9 L923.4 1129.3 L923.9 1129.5 L924.3 1129.1 L924.4 1129.1 L924.6 1129.5 L925.1 1130.5 L925.8 1131.9 L926.6 1133.3 L927.4 1135.7 L928.0 1137.6 L928.7 1140.5 L929.2 1144.0 L929.7 1147.9 L930.1 1151.5 L930.6 1155.9 L931.0 1159.4 L931.5 1163.0 L931.9 1166.8 L932.3 1170.8 L932.7 1174.2 L933.2 1178.2 L933.7 1182.2 L934.4 1186.1 L935.1 1190.4 L935.9 1194.9 L936.7 1199.4 L937.5 1203.8 L938.3 1207.9 L939.0 1211.8 L939.8 1215.2 L940.5 1219.1 L941.3 1222.9 L942.1 1226.8 L943.0 1229.9 L943.8 1232.7 L944.7 1234.9 L945.6 1237.4 L946.5 1239.9 L947.5 1242.6 L948.5 1244.9 L949.5 1247.2 L950.6 1249.1 L951.7 1251.4 L952.8 1253.5 L953.9 1255.7 L955.0 1257.6 L955.9 1260.1 L956.8 1261.8 L957.7 1264.4 L958.6 1266.4 L959.6 1267.7 L960.6 1269.7 L961.5 1271.9 L962.5 1273.6 L963.5 1274.0 L964.6 1275.0 L965.7 1275.9 L967.0 1278.0 L968.4 1277.1 L969.9 1278.0 L971.5 1277.2 L973.1 1277.8 L974.7 1278.3 L976.3 1276.5 L978.2 1277.3 L979.3 1276.4 L980.4 1276.7 L981.6 1276.5 L982.7 1274.6 L984.6 1275.1 L986.0 1273.7 L986.5 1272.4 L987.9 1268.8 L989.3 1270.1 L990.6 1268.1 L992.0 1265.5 L993.4 1262.8 L994.8 1262.9 L996.1 1261.2 L997.5 1263.3 L998.8 1257.3 L1000.2 1260.8 L1001.5 1260.3 L1002.9 1255.0 L1004.2 1258.8 L1005.6 1256.5 L1006.9 1256.6 L1008.3 1251.9 L1009.6 1251.9 L1011.0 1253.1 L1012.4 1258.3 L1013.8 1257.4 L1015.2 1257.6 L1016.6 1259.5 L1018.0 1261.0 L1019.5 1255.1 L1021.1 1251.7 L1022.6 1251.2 L1023.9 1250.2 L1025.3 1255.1 L1026.6 1252.1 L1027.9 1253.2 L1029.2 1255.8 L1030.6 1254.9 L1031.9 1257.5 L1033.2 1257.6 L1034.5 1254.3 L1035.8 1250.9 L1037.1 1246.9 L1038.4 1245.7 L1039.7 1243.0 L1041.0 1237.5 L1042.4 1237.7 L1043.8 1232.6 L1045.1 1235.6 L1046.5 1232.9 L1047.9 1233.7 L1049.2 1232.0 L1050.6 1228.8 L1052.0 1227.9 L1053.5 1233.0 L1054.9 1229.6 L1056.3 1233.0 L1057.8 1234.2 L1059.1 1232.3 L1060.5 1233.9 L1061.8 1234.2 L1063.2 1228.8 L1064.5 1230.1 L1065.9 1226.9 L1067.2 1227.3 L1068.6 1225.2 L1069.9 1222.8 L1071.3 1221.7 L1072.6 1221.9 L1073.9 1224.0 L1075.3 1220.4 L1076.6 1217.7 L1078.0 1220.7 L1079.3 1220.2 L1080.7 1215.8 L1082.0 1214.1 L1083.4 1214.4 L1084.8 1215.0 L1086.2 1217.8 L1087.6 1217.5 L1089.0 1219.6 L1090.4 1221.0 L1091.8 1223.9 L1093.0 1224.1 L1094.3 1221.4 L1095.5 1217.5 L1096.8 1215.6 L1098.0 1214.4 L1099.3 1211.6 L1100.5 1210.1 L1101.9 1207.7 L1103.3 1208.9 L1104.7 1212.9 L1106.2 1207.7 L1107.6 1209.8 L1109.0 1210.4 L1110.4 1210.4 L1111.8 1212.7 L1113.2 1217.9 L1114.6 1222.6 L1116.0 1228.8 L1117.3 1227.2 L1118.5 1228.9 L1119.8 1226.8 L1121.1 1225.5 L1122.3 1219.0 L1123.6 1219.3 L1124.9 1217.3 L1126.3 1214.1 L1127.7 1207.2 L1129.0 1203.2 L1130.5 1203.6 L1131.9 1209.5 L1133.4 1214.8 L1134.9 1214.0 L1136.3 1212.3 L1137.8 1209.5 L1139.2 1214.9 L1140.6 1221.7 L1142.0 1231.5 L1143.4 1231.0 L1144.8 1230.6 L1146.3 1230.8 L1147.7 1226.6 L1149.1 1231.7 L1150.6 1237.2 L1152.0 1239.9 L1153.4 1241.8 L1154.8 1239.5 L1156.1 1246.2 L1157.5 1244.8 L1158.8 1254.1 L1160.1 1257.6 L1161.4 1260.6 L1162.7 1264.8 L1164.0 1272.3 L1165.1 1268.5 L1166.3 1263.5 L1167.4 1255.5 L1168.8 1257.4 L1170.2 1264.5 L1171.6 1268.7 L1173.0 1271.7 L1174.3 1268.4 L1175.6 1269.5 L1176.9 1263.7 L1178.2 1264.2 L1179.5 1263.9 L1180.8 1267.8 L1182.1 1266.0 L1183.4 1268.3 L1184.7 1265.8 L1186.0 1265.7 L1187.4 1269.6 L1188.8 1279.6 L1190.1 1282.6 L1191.5 1285.4 L1192.9 1281.0 L1194.2 1282.8 L1195.6 1282.5 L1197.0 1279.4 L1198.5 1290.3 L1199.9 1305.7 L1201.4 1318.2 L1203.1 1289.8 L1204.7 1265.2 L1206.1 1274.1 L1207.6 1283.5 L1209.0 1293.3 L1210.4 1291.2 L1211.8 1296.0 L1213.1 1296.2 L1214.5 1295.0 L1216.0 1282.5 L1217.5 1277.7 L1219.0 1263.5 L1220.3 1270.2 L1221.7 1269.9 L1223.1 1273.7 L1224.4 1280.4 L1225.7 1273.9 L1226.9 1274.5 L1228.2 1267.0 L1229.5 1260.5 L1230.7 1256.6 L1232.0 1254.2 L1233.4 1257.0 L1234.8 1260.4 L1236.2 1256.0 L1237.6 1259.6 L1238.9 1255.7 L1240.2 1259.0 L1241.4 1250.8 L1242.7 1248.0 L1244.0 1247.7 L1245.4 1250.7 L1246.8 1256.8 L1248.2 1259.1 L1249.6 1259.5 L1250.9 1260.9 L1252.2 1259.0 L1253.4 1253.2 L1254.7 1250.7 L1256.0 1254.6 L1257.3 1250.7 L1258.6 1245.1 L1259.9 1248.1 L1261.3 1244.5 L1262.6 1242.9 L1263.9 1241.8 L1265.1 1240.2 L1266.4 1239.3 L1267.6 1241.7 L1268.9 1242.5 L1270.1 1247.2 L1271.4 1241.5 L1272.6 1245.8 L1273.9 1239.9 L1275.3 1238.6 L1276.7 1239.5 L1278.0 1235.6 L1279.5 1246.2 L1281.0 1255.5 L1282.5 1270.7 L1283.9 1264.9 L1285.2 1263.9 L1286.6 1253.7 L1288.0 1250.6 L1289.7 1260.5 L1291.3 1262.9 L1292.7 1256.7 L1294.2 1252.6 L1295.6 1244.2 L1296.7 1252.9 L1297.9 1265.7 L1299.0 1280.5 L1300.4 1277.5 L1301.9 1265.5 L1303.3 1260.6 L1304.6 1267.1 L1306.0 1267.5 L1307.3 1271.4 L1308.7 1280.7 L1310.0 1282.1 L1311.3 1278.6 L1312.7 1280.4 L1314.0 1276.1 L1315.3 1274.3 L1316.7 1270.9 L1318.0 1274.8 L1319.3 1274.5 L1320.7 1271.0 L1322.0 1269.9 L1323.2 1267.8 L1324.5 1272.0 L1325.7 1276.4 L1327.0 1282.6 L1328.2 1285.2 L1329.5 1283.8 L1330.7 1286.6 L1332.0 1283.9 L1333.3 1281.5 L1334.7 1281.8 L1336.0 1273.6 L1337.3 1273.9 L1338.6 1276.0 L1339.9 1278.0 L1341.3 1278.9 L1342.6 1279.1 L1343.9 1279.1 L1345.5 1263.0 L1347.0 1248.6 L1348.3 1257.6 L1349.7 1259.1 L1351.0 1266.5 L1352.4 1277.1 L1353.7 1281.1 L1355.0 1273.4 L1356.3 1267.9 L1357.7 1266.4 L1359.0 1259.5 L1360.3 1256.9 L1361.9 1264.8 L1363.6 1270.0 L1365.1 1257.4 L1366.5 1246.5 L1368.0 1238.8 L1369.5 1247.3 L1370.9 1256.2 L1372.4 1261.8 L1373.8 1257.1 L1375.1 1255.4 L1376.5 1253.9 L1377.8 1250.5 L1379.2 1254.0 L1380.6 1256.9 L1382.0 1257.1 L1383.5 1247.7 L1385.1 1246.7 L1386.6 1237.4 L1388.1 1243.9 L1389.5 1248.0 L1391.0 1255.1 L1392.5 1246.0 L1393.9 1240.2 L1395.4 1235.1 L1396.9 1239.9 L1398.3 1251.7 L1399.8 1255.7 L1401.2 1249.4 L1402.6 1245.1 L1404.0 1242.4 L1405.3 1241.4 L1406.6 1239.8 L1407.9 1244.2 L1409.1 1243.5 L1410.4 1246.2 L1411.7 1240.2 L1413.0 1243.3 L1414.2 1246.9 L1415.5 1248.3 L1416.7 1250.1 L1418.0 1245.0 L1419.2 1248.1 L1420.5 1249.0 L1421.7 1251.4 L1423.1 1254.5 L1424.4 1253.0 L1425.8 1254.9 L1427.2 1252.6 L1428.5 1255.2 L1429.9 1253.6 L1431.2 1253.0 L1432.6 1254.9 L1434.1 1258.7 L1435.5 1257.0 L1437.0 1261.2 L1438.3 1262.0 L1439.6 1260.6 L1440.8 1261.7 L1442.1 1261.2 L1443.4 1261.9 L1444.7 1262.6 L1446.0 1264.6 L1447.3 1265.3 L1448.6 1263.7 L1449.8 1263.3 L1451.1 1265.2 L1452.4 1266.7 L1453.7 1264.7 L1455.1 1265.0 L1456.4 1264.3 L1457.8 1266.8 L1459.1 1265.4 L1460.4 1262.9 L1461.8 1262.8 L1463.1 1263.9 L1464.4 1264.4 L1465.8 1264.6 L1467.1 1261.8 L1468.5 1261.9 L1469.8 1263.6 L1471.2 1263.2 L1472.5 1263.0 L1473.9 1263.5 L1475.2 1266.9 L1476.6 1264.4 L1477.9 1266.0 L1479.3 1265.4 L1480.6 1266.1 L1482.0 1267.6 L1483.3 1268.4 L1484.5 1264.6 L1485.8 1263.0 L1487.1 1264.6 L1488.3 1261.4 L1489.6 1259.6 L1490.9 1262.9 L1492.1 1259.9 L1493.4 1260.0 L1494.6 1260.2 L1495.9 1263.7 L1497.1 1263.0 L1498.4 1262.9 L1499.6 1264.8 L1500.8 1265.0 L1502.1 1264.4 L1503.3 1264.7 L1504.6 1260.0 L1505.8 1261.5 L1507.1 1259.4 L1508.3 1259.0 L1509.5 1258.9 L1510.8 1261.0 L1512.0 1263.5 L1513.3 1266.9 L1514.5 1265.7 L1515.9 1266.1 L1517.3 1267.2 L1518.7 1267.6 L1520.1 1263.8 L1521.5 1263.2 L1522.9 1266.6 L1524.3 1266.5 L1525.7 1264.0 L1527.0 1262.2 L1528.2 1266.6 L1529.5 1264.4 L1530.7 1267.1 L1532.0 1266.1 L1533.2 1267.3 L1534.5 1264.5 L1535.7 1266.9 L1537.1 1264.8 L1538.6 1265.3 L1540.0 1267.0 L1541.4 1266.6 L1542.9 1263.3 L1544.3 1263.9 L1545.6 1264.4 L1547.0 1265.4 L1548.3 1265.2 L1549.7 1264.5 L1551.0 1265.5 L1552.4 1268.2 L1553.8 1269.4 L1555.1 1266.0 L1556.5 1268.8 L1557.8 1270.2 L1559.2 1267.3 L1560.5 1270.5 L1561.7 1267.8 L1563.0 1269.6 L1564.2 1269.0 L1565.5 1269.0 L1566.7 1267.6 L1568.2 1268.3 L1569.6 1269.7 L1571.1 1269.7 L1572.5 1271.5 L1574.0 1271.3 L1575.3 1269.9 L1576.5 1266.7 L1577.8 1268.2 L1579.1 1266.4 L1580.3 1264.0 L1581.6 1264.5 L1582.8 1266.1 L1584.1 1265.5 L1585.3 1265.0 L1586.6 1267.2 L1587.8 1266.3 L1589.1 1267.2 L1590.3 1269.5 L1591.6 1269.8 L1592.8 1270.5 L1594.1 1270.9 L1595.3 1268.9 L1596.5 1271.8 L1597.8 1269.3 L1599.0 1271.8 L1600.4 1273.3 L1601.8 1272.7 L1603.1 1271.2 L1604.5 1273.9 L1605.9 1273.9 L1607.2 1277.1 L1608.6 1274.0 L1610.0 1277.0 L1611.3 1277.4 L1612.6 1275.0 L1613.9 1274.2 L1615.1 1270.1 L1616.4 1272.6 L1617.7 1269.1 L1619.0 1268.8 L1620.2 1269.5 L1621.4 1265.5 L1622.6 1267.9 L1623.8 1268.1 L1625.0 1264.9 L1626.3 1265.5 L1627.5 1267.8 L1628.8 1265.5 L1630.0 1269.4 L1631.3 1267.6 L1632.5 1268.3 L1633.8 1264.1 L1635.0 1264.7 L1636.3 1265.5 L1637.5 1261.9 L1638.9 1261.9 L1640.3 1263.5 L1641.8 1263.2 L1643.2 1262.5 L1644.6 1263.7 L1646.0 1265.1 L1647.2 1266.9 L1648.5 1265.0 L1649.8 1265.2 L1651.0 1261.0 L1652.2 1263.1 L1653.5 1259.2 L1654.8 1260.3 L1656.0 1259.7 L1657.3 1258.1 L1658.5 1259.9 L1659.8 1257.8 L1661.1 1257.3 L1662.3 1258.1 L1663.6 1255.0 L1664.8 1258.4 L1666.1 1257.1 L1667.3 1256.5 L1668.5 1258.7 L1669.8 1256.7 L1671.0 1259.1 L1672.2 1258.0 L1673.5 1256.5 L1674.8 1257.8 L1676.0 1255.8 L1677.2 1254.1 L1678.5 1256.2 L1679.8 1252.4 L1681.0 1254.6 L1682.4 1253.3 L1683.8 1255.4 L1685.1 1257.4 L1686.5 1256.0 L1687.9 1256.7 L1689.3 1255.5 L1690.6 1254.4 L1692.0 1255.0 L1693.4 1256.9 L1694.7 1257.7 L1695.9 1256.4 L1697.2 1256.4 L1698.4 1257.8 L1699.7 1253.9 L1700.9 1254.0 L1702.2 1255.6 L1703.4 1253.6 L1704.8 1252.5 L1706.2 1254.5 L1707.5 1253.7 L1708.9 1255.2 L1710.3 1254.9 L1711.7 1256.9 L1713.0 1257.2 L1714.4 1255.8 L1715.8 1257.7 L1717.0 1257.0 L1718.3 1255.0 L1719.5 1258.2 L1720.8 1254.6 L1722.0 1253.7 L1723.3 1253.1 L1724.5 1254.8 L1725.9 1256.8 L1727.2 1256.9 L1728.6 1255.7 L1729.9 1255.7 L1731.3 1255.1 L1732.6 1258.5 L1734.0 1258.7 L1735.3 1258.3 L1736.7 1260.2 L1738.0 1259.9 L1739.4 1261.5 L1740.6 1260.9 L1741.9 1257.9 L1743.1 1260.1 L1744.3 1255.3 L1745.6 1256.7 L1746.8 1255.5 L1748.0 1255.2 L1749.3 1255.1 L1750.5 1259.1 L1751.8 1256.3 L1753.0 1259.5 L1754.3 1262.0 L1755.5 1259.0 L1756.8 1260.8 L1758.1 1261.8 L1759.5 1261.2 L1760.8 1261.7 L1762.2 1262.4 L1763.5 1259.3 L1764.9 1259.8 L1766.2 1259.7 L1767.6 1258.4 L1769.0 1262.1 L1770.3 1261.5 L1771.7 1261.1 L1773.0 1259.1 L1774.2 1262.6 L1775.4 1263.1 L1776.6 1262.8 L1777.8 1265.1 L1779.0 1264.9 L1780.2 1262.2 L1781.5 1259.5 L1782.8 1257.0 L1784.0 1254.4 L1784.2 1252.5 L1784.7 1247.6 L1785.3 1240.6 L1786.2 1232.9 L1787.0 1225.5 L1787.8 1219.6 L1788.3 1216.8 L1788.8 1214.0 L1789.3 1211.5 L1789.8 1209.1 L1790.4 1206.9 L1791.0 1205.0 L1791.5 1203.9 L1792.2 1202.5 L1792.8 1201.5 L1793.4 1200.4 L1793.8 1199.8 L1794.0 1199.5 L1794.2 1199.9 L1794.6 1200.6 L1795.2 1201.5 L1795.8 1202.5 L1796.5 1203.9 L1797.0 1205.0 L1797.6 1206.9 L1798.2 1209.2 L1798.7 1211.5 L1799.2 1214.1 L1799.7 1216.8 L1800.2 1219.8 L1801.1 1225.4 L1802.2 1232.9 L1803.3 1240.6 L1804.3 1247.6 L1804.9 1252.5 L1805.2 1254.6 L1806.4 1256.8 L1807.7 1258.9 L1808.9 1261.0 L1810.2 1264.0 L1811.4 1264.9 L1812.8 1266.8 L1814.3 1262.4 L1815.7 1261.0 L1817.1 1260.6 L1818.6 1263.5 L1820.0 1260.4 L1821.3 1259.2 L1822.7 1258.9 L1824.0 1259.2 L1825.4 1262.4 L1826.7 1262.3 L1828.1 1262.8 L1829.4 1263.1 L1830.8 1260.2 L1832.1 1262.8 L1833.5 1262.0 L1834.8 1264.3 L1836.2 1264.5 L1837.5 1263.9 L1838.8 1260.7 L1840.0 1263.8 L1841.2 1263.5 L1842.5 1263.1 L1843.8 1258.7 L1845.0 1259.5 L1846.4 1258.9 L1847.7 1259.3 L1849.1 1263.8 L1850.4 1264.3 L1851.8 1264.3 L1853.1 1265.9 L1854.5 1265.7 L1855.8 1264.8 L1857.2 1264.7 L1858.5 1265.4 L1859.9 1268.5 L1861.3 1265.8 L1862.7 1265.6 L1864.1 1265.2 L1865.6 1262.6 L1867.0 1262.9 L1868.4 1262.2 L1869.8 1262.8 L1871.1 1262.2 L1872.5 1262.3 L1873.8 1265.7 L1875.2 1264.0 L1876.5 1265.9 L1877.8 1265.3 L1879.2 1262.9 L1880.5 1265.1 L1881.8 1265.6 L1883.2 1267.5 L1884.5 1265.9 L1885.9 1268.0 L1887.2 1267.5 L1888.6 1265.9 L1890.0 1267.0"/>
</g>
<text class="t" text-anchor="end" x="279.0" y="101.7">15</text>
<text class="t" text-anchor="end" x="279.0" y="210.9">10</text>
<text class="t" text-anchor="end" x="279.0" y="320.1">5</text>
<text class="t" text-anchor="end" x="279.0" y="429.3">0</text>
<text class="t" text-anchor="end" x="279.0" y="574.3">10</text>
<text class="t" text-anchor="end" x="279.0" y="694.8">0</text>
<text class="t" text-anchor="end" x="279.0" y="815.4">-10</text>
<text class="t" text-anchor="end" x="279.0" y="935.9">-20</text>
<text class="t" text-anchor="end" x="279.0" y="1015.0">6</text>
<text class="t" text-anchor="end" x="279.0" y="1107.4">4</text>
<text class="t" text-anchor="end" x="279.0" y="1199.8">2</text>
<text class="t" text-anchor="end" x="279.0" y="1292.2">0</text>
<text class="t" text-anchor="end" x="279.0" y="1384.6">-2</text>
<text class="t" text-anchor="middle" x="362.8" y="1462.0">1800</text>
<text class="t" text-anchor="middle" x="628.5" y="1462.0">1600</text>
<text class="t" text-anchor="middle" x="894.1" y="1462.0">1400</text>
<text class="t" text-anchor="middle" x="1159.8" y="1462.0">1200</text>
<text class="t" text-anchor="middle" x="1425.4" y="1462.0">1000</text>
<text class="t" text-anchor="middle" x="1688.4" y="1462.0">800</text>
<text class="t" transform="translate(116.0 446.5) rotate(-90)" x="0" y="0">Loss / 10<tspan class="s" dx="0.6" dy="-55.2">-4</tspan></text>
<text class="t" transform="translate(116.0 896.5) rotate(-90)" x="0" y="0">Loss / 10<tspan class="s" dx="0.6" dy="-55.2">-3</tspan></text>
<text class="t" transform="translate(116.0 1348.0) rotate(-90)" x="0" y="0">Gain / 10<tspan class="s" dx="0.6" dy="-55.2">-3</tspan></text>
<text class="t" x="752" y="1592.3">Raman shift / cm<tspan class="s" dx="-1.5" dy="-55.6">-1</tspan></text>
<text class="p" x="748.5" y="151.9">1446</text>
<text class="p" x="852.5" y="307.0">1379</text>
<text class="p" x="734.0" y="624.8">1402</text>
<text class="p" x="888.5" y="580.6">1369</text>
<text class="p" x="881.0" y="757.0">1388</text>
<text class="p" x="766.5" y="892.0">1434</text>
<text class="p" x="1742.0" y="629.9">720</text>
<text class="p" x="1680.0" y="754.0">735</text>
<text class="p" x="792.0" y="1039.8">1413</text>
<text class="p" x="887.5" y="1112.6">1377</text>
<text class="p" x="1734.4" y="1185.0">721</text>
<text class="q" text-anchor="end" x="1824.6" y="145.7">(a) P3HT, IRS</text>
<text class="q" text-anchor="end" x="1824.6" y="878">(b) P3HT/FeCl<tspan class="s" dy="18" style="font-size:52.43px">3</tspan><tspan dy="-18">, IRS</tspan></text>
<text class="q" text-anchor="end" x="1824.6" y="1037.7">(c) P3HT/FeCl<tspan class="s" dy="18" style="font-size:52.43px">3</tspan><tspan dy="-18">, SRS</tspan></text>
<defs><clipPath id="clipP"><rect x="294.0" y="29.3" width="1596.6" height="1344.8"/></clipPath></defs>
<defs><clipPath id="clipA"><rect x="295.5" y="29.3" width="1594.6" height="443.7"/></clipPath></defs>
</svg></body></html>
